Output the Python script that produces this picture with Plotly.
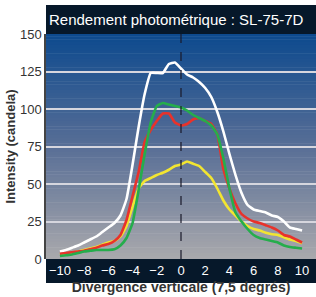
import plotly.graph_objects as go

# ---------------- data ----------------
divergence = [-10, -9.5, -9, -8.5, -8, -7.5, -7, -6.5, -6, -5.5, -5, -4.5, -4, -3.5, -3, -2.5, -2, -1.5, -1, -0.5,
              0, 0.5, 1, 1.5, 2, 2.5, 3, 3.5, 4, 4.5, 5, 5.5, 6, 6.5, 7, 7.5, 8, 8.5, 9, 9.5, 10]

white = [5, 6, 7.5, 9, 11, 13, 15, 18, 21, 24, 29, 40, 63, 88, 110, 124, 124, 124, 130, 131,
         127, 123, 121, 118, 114, 108, 98, 85, 70, 56, 44, 36, 33, 32, 31, 29, 28, 25, 21, 20, 19]

green = [2, 2.5, 3, 4, 5, 5.5, 6, 6, 6, 6.5, 9, 14, 24, 46, 70, 91, 102, 104, 103, 102,
         101, 99, 96, 94, 92, 89, 83, 67, 47, 31, 25, 20, 16, 14, 13, 12, 11, 9, 8, 7.5, 7]

red = [3.5, 4, 4.5, 5, 5.5, 6.5, 7.5, 9, 10, 12, 16, 26, 42, 58, 78, 86, 92, 97, 97, 91,
       89, 90, 93, 94, 92, 90, 83, 60, 47, 37, 30, 27, 25, 24, 22.5, 21, 19, 16, 15, 13, 11]

yellow = [3, 3.5, 4, 5, 6, 7, 8, 9.5, 11, 12, 15, 22, 35, 47, 52, 54, 56, 57.5, 59.5, 62,
          63, 65, 63.5, 62, 58, 54, 47, 39, 33, 29, 25, 22, 20, 19, 17.5, 16.5, 16, 14.5, 13, 12, 10.5]

x_ticks = [-10, -8, -6, -4, -2, 0, 2, 4, 6, 8, 10]
y_ticks = [0, 25, 50, 75, 100, 125, 150]

title_text = "Rendement photométrique : SL-75-7D"
x_title = "Divergence verticale (7,5 degrés)"
y_title = "Intensity (candela)"

# ---------------- figure ----------------
fig = go.Figure()

series = [
    (white, "#ffffff"),
    (yellow, "#f2e531"),
    (red, "#e8322b"),
    (green, "#25ad4c"),
]
for vals, col in series:
    fig.add_trace(go.Scatter(x=divergence, y=vals, mode="lines",
                             line=dict(color=col, width=2.6, shape="spline", smoothing=0.4),
                             showlegend=False, hoverinfo="skip"))

shapes = []
# vertical gradient background
top_rgb = (13, 74, 142)
mid_rgb = (88, 110, 150)
bot_rgb = (168, 168, 172)
n = 80
for i in range(n):
    t = i / (n - 1)
    if t < 0.5:
        u = t / 0.5
        c = [round(top_rgb[k] + (mid_rgb[k] - top_rgb[k]) * u) for k in range(3)]
    else:
        u = (t - 0.5) / 0.5
        c = [round(mid_rgb[k] + (bot_rgb[k] - mid_rgb[k]) * u) for k in range(3)]
    shapes.append(dict(type="rect", xref="paper", yref="paper",
                       x0=0, x1=1, y0=1 - (i + 1) / n, y1=1 - i / n + 0.002,
                       fillcolor="rgb(%d,%d,%d)" % tuple(c), line=dict(width=0), layer="below"))
# title bar
shapes.append(dict(type="rect", xref="paper", yref="paper", x0=0, x1=1.01, y0=1, y1=1.129,
                   fillcolor="#06182a", line=dict(width=0), layer="below"))
# x-axis band
shapes.append(dict(type="rect", xref="paper", yref="paper", x0=0, x1=1.01, y0=-0.107, y1=0,
                   fillcolor="#06182a", line=dict(width=0), layer="below"))
# dashed zero line
shapes.append(dict(type="line", xref="x", yref="paper", x0=0, x1=0, y0=0, y1=1,
                   line=dict(color="#1a1a2a", width=1.2, dash="dash"), layer="above"))

fig.update_layout(
    width=316, height=297,
    margin=dict(l=46, r=0, t=34, b=38),
    paper_bgcolor="white",
    plot_bgcolor="rgba(0,0,0,0)",
    shapes=shapes,
    font=dict(family="Liberation Sans, Arial, sans-serif", color="#333333"),
    annotations=[dict(text=title_text, xref="paper", yref="paper", x=0.005, y=1.066,
                      xanchor="left", yanchor="middle", showarrow=False,
                      font=dict(family="Liberation Sans, sans-serif",
                                size=15, color="white"))],
)
fig.update_xaxes(range=[-11.15, 11.15], tickvals=x_ticks, showgrid=False, zeroline=False,
                 showline=False, ticks="", ticklabelstandoff=2,
                 tickfont=dict(color="white", size=13),
                 title=dict(text="<b>" + x_title + "</b>", font=dict(size=14, color="#333333"),
                            standoff=5))
fig.update_yaxes(range=[0, 150], tickvals=y_ticks, showgrid=True, gridcolor="#d6d6de",
                 gridwidth=1.5, zeroline=False, showline=True, linecolor="#444444", linewidth=1.5,
                 ticks="", tickfont=dict(color="#333333", size=13),
                 title=dict(text="<b>" + y_title + "</b>", font=dict(size=13, color="#333333"),
                            standoff=1))

fig.write_html("out.html", config={"displayModeBar": False},
               post_script="document.body.style.margin='0';")
